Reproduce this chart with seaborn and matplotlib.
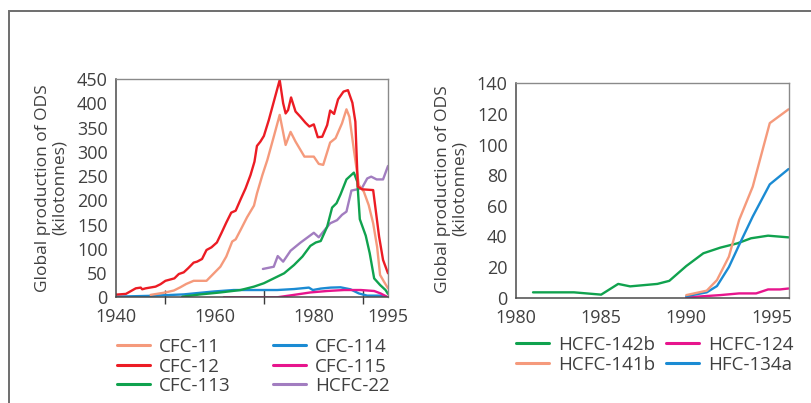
import matplotlib
matplotlib.use("Agg")
import matplotlib.pyplot as plt
import seaborn as sns
import pandas as pd
from matplotlib.lines import Line2D
from matplotlib.patches import Rectangle

# ---------------- data ----------------
cfc11_years = [1947, 1950, 1951.7, 1953, 1954.2, 1955.7, 1958.3, 1959.8, 1961.1, 1962.3, 1963.5,
               1964.2, 1965.2, 1966.5, 1967.9, 1968.5, 1969.6, 1970.6, 1971.9, 1973.1, 1974.3,
               1975.3, 1976.3, 1978.1, 1980, 1981, 1981.9, 1983.3, 1984.4, 1985.7, 1986.6,
               1987.2, 1988.1, 1989.1, 1990.1, 1991.1, 1992, 1992.8, 1993.4, 1994.2, 1995]
cfc11_vals = [5, 10, 14, 20.6, 27.5, 34, 34, 49.5, 63, 84, 115,
              119.5, 139, 165, 189, 214, 252, 283, 331, 376, 314,
              341, 321, 290, 290, 275, 273, 319, 328, 358.6, 387.5,
              372, 304, 231.5, 218, 190, 152.5, 104, 46, 32, 18.5]

cfc12_years = [1940, 1942, 1944, 1945, 1945.3, 1946, 1948, 1949, 1950, 1951.8, 1952.7, 1953.7,
               1954.6, 1955.7, 1956.4, 1957.4, 1958.3, 1959.3, 1960.4, 1961.3, 1962.3, 1963.3,
               1964.2, 1965.2, 1966.2, 1967.2, 1968, 1968.5, 1969.2, 1969.9, 1970.9, 1971.9,
               1973.1, 1973.8, 1974.3, 1974.8, 1975.4, 1976.3, 1977.3, 1978.3, 1979.1, 1980,
               1980.8, 1981.7, 1982.7, 1983.3, 1984.1, 1984.9, 1986, 1986.9, 1987.8, 1988.4,
               1988.9, 1989.8, 1992, 1993.2, 1994, 1995]
cfc12_vals = [5.5, 7, 18.5, 20, 16.5, 18.5, 22, 27, 34, 39, 48, 51.5,
              60, 71.5, 73.5, 79, 97.5, 103, 113, 132, 154, 174.5,
              178.6, 202, 224.6, 252, 279.6, 312, 321, 332.5, 365.5, 403,
              448, 400, 379, 386, 412, 383, 372, 360, 352, 356.5,
              330, 331, 355, 385, 378, 408, 424, 427, 401, 362,
              228, 222.6, 221, 125, 77, 49.5]

cfc113_years = [1953.4, 1957.1, 1961.1, 1965.2, 1967.9, 1969.9, 1971.9, 1974, 1976, 1977.7,
                1979.3, 1980.4, 1981.4, 1982.7, 1983.7, 1984.6, 1985.4, 1986.6, 1988.1, 1988.8,
                1989.3, 1990.5, 1991.3, 1992.2, 1993.4, 1994.5, 1995]
cfc113_vals = [1.4, 6, 10, 15, 22, 29, 39, 49.5, 66.6, 84,
               106, 113, 116, 145.6, 185, 194, 212, 243, 257, 238,
               161, 127, 91, 39, 25.4, 15, 7]

cfc114_years = [1940, 1947, 1953.7, 1959.8, 1963.8, 1969.6, 1972.6, 1976, 1979, 1979.8,
                1981.4, 1983.4, 1985.4, 1987.4, 1989.1, 1990.8, 1993.5, 1995]
cfc114_vals = [1.4, 3, 6, 12, 15, 15, 15, 17, 20, 15,
               18, 20, 20.6, 16.5, 8, 3.4, 3.4, 0]

cfc115_years = [1961.8, 1972.6, 1976, 1979.3, 1982.7, 1986.1, 1989.5, 1992.2, 1993.5, 1995]
cfc115_vals = [0, 0, 5, 10, 13, 15, 15, 13, 8, 0]

hcfc22_years = [1969.7, 1971.9, 1972.7, 1973.8, 1975.3, 1977.3, 1980, 1981, 1983.3, 1984.7,
                1985.7, 1986.6, 1987.6, 1988.8, 1989.7, 1990.8, 1991.6, 1992.7, 1994, 1995]
hcfc22_vals = [58.4, 63, 85, 73.5, 96, 112.7, 133, 123.7, 152.5, 159,
               170, 176.6, 220, 222.6, 224.6, 245, 248.7, 243, 243, 270.7]

hcfc142b_years = [1981, 1983.4, 1985, 1986, 1986.7, 1988.3, 1989, 1990, 1991, 1992, 1993,
                  1993.8, 1994.8, 1996]
hcfc142b_vals = [3.5, 3.5, 2, 9, 7.4, 9, 11, 20.7, 29, 32.7, 35.5, 38.8, 40.5, 39.4]

hcfc141b_years = [1990, 1991.2, 1991.8, 1992.5, 1993.1, 1993.9, 1994.9, 1996]
hcfc141b_vals = [1.7, 4.6, 11.5, 26.8, 50.7, 72.5, 114, 123]

hfc134a_years = [1990, 1991.2, 1991.8, 1992.5, 1993.1, 1993.9, 1994.9, 1996]
hfc134a_vals = [1, 3.5, 7.6, 20, 34.4, 53, 74, 84]

hcfc124_years = [1990, 1992, 1993.1, 1994.1, 1994.8, 1995.5, 1996]
hcfc124_vals = [0.2, 1.7, 2.8, 2.8, 5.4, 5.4, 6]

left_ticks = [1940, 1960, 1980, 1995]
left_minor = [1950, 1970, 1990]
right_ticks = [1980, 1985, 1990, 1995]
left_yticks = [0, 50, 100, 150, 200, 250, 300, 350, 400, 450]
right_yticks = [0, 20, 40, 60, 80, 100, 120, 140]
ylabel_text = "Global production of ODS\n(kilotonnes)"

# ---------------- styling ----------------
colors = {
    "CFC-11": "#F59A7C", "CFC-12": "#EC1C24", "CFC-113": "#10A24E",
    "CFC-114": "#1B8BD3", "CFC-115": "#E7158D", "HCFC-22": "#A27DC0",
    "HCFC-142b": "#10A24E", "HCFC-141b": "#F59A7C", "HCFC-124": "#E7158D",
    "HFC-134a": "#1B8BD3",
}
TXT = "#404040"
sns.set_theme(style="white")
plt.rcParams["font.family"] = ["Open Sans", "DejaVu Sans"]
FS = 13
FS_LAB = 12.5
FS_LEG = 13.5

def long_df(series):
    rows = []
    for name, yrs, vals in series:
        for x, v in zip(yrs, vals):
            rows.append({"year": x, "value": v, "series": name})
    return pd.DataFrame(rows)

left_series = [("CFC-11", cfc11_years, cfc11_vals), ("CFC-12", cfc12_years, cfc12_vals),
               ("CFC-113", cfc113_years, cfc113_vals), ("CFC-114", cfc114_years, cfc114_vals),
               ("CFC-115", cfc115_years, cfc115_vals), ("HCFC-22", hcfc22_years, hcfc22_vals)]
right_series = [("HCFC-142b", hcfc142b_years, hcfc142b_vals), ("HCFC-141b", hcfc141b_years, hcfc141b_vals),
                ("HCFC-124", hcfc124_years, hcfc124_vals), ("HFC-134a", hfc134a_years, hfc134a_vals)]
dfl = long_df(left_series)
dfr = long_df(right_series)

W, H = 811, 403
fig = plt.figure(figsize=(W / 100, H / 100), dpi=100)

def ax_rect(l, r, t, b):
    return [l / W, (H - b) / H, (r - l) / W, (b - t) / H]

axL = fig.add_axes(ax_rect(116, 388, 79, 297.3))
axR = fig.add_axes(ax_rect(516, 788.5, 83.3, 297.7))

left_order = ["CFC-114", "CFC-115", "HCFC-22", "CFC-113", "CFC-11", "CFC-12"]
sns.lineplot(data=dfl, x="year", y="value", hue="series", hue_order=left_order,
             palette=colors, estimator=None, linewidth=1.7, ax=axL, legend=False)
right_order = ["HCFC-124", "HCFC-142b", "HFC-134a", "HCFC-141b"]
sns.lineplot(data=dfr, x="year", y="value", hue="series", hue_order=right_order,
             palette=colors, estimator=None, linewidth=1.7, ax=axR, legend=False)

def style_axis(ax, xlim, ylim, xt, yt, minor=None):
    ax.set_xlim(*xlim)
    ax.set_ylim(*ylim)
    ax.set_xticks(xt)
    ax.set_xticklabels([str(v) for v in xt])
    if minor:
        ax.set_xticks(minor, minor=True)
    ax.set_yticks(yt)
    ax.set_yticklabels([str(v) for v in yt])
    ax.set_xlabel("")
    ax.set_ylabel("")
    for side in ["left", "bottom"]:
        ax.spines[side].set_color("#4a4a4a")
        ax.spines[side].set_linewidth(1.1)
    for side in ["top", "right"]:
        ax.spines[side].set_color("#8a8a8a")
        ax.spines[side].set_linewidth(1.0)
    ax.tick_params(axis="both", which="both", direction="inout", length=10, width=1.0,
                   color="#3a3a3a", labelsize=FS, labelcolor=TXT)
    ax.tick_params(axis="x", which="minor", length=10, width=1.0, color="#3a3a3a", bottom=True)
    ax.tick_params(axis="x", pad=3)
    ax.tick_params(axis="y", pad=1)
    ax.grid(False)
    ax.set_facecolor("white")

style_axis(axL, (1940, 1995), (0, 450), left_ticks, left_yticks, left_minor)
style_axis(axR, (1980, 1996), (0, 140), right_ticks, right_yticks)

fig.text(51 / W, 1 - 188 / H, ylabel_text, rotation=90, ha="center", va="center",
         fontsize=FS_LAB, color=TXT, linespacing=1.05)
fig.text(451 / W, 1 - 189 / H, ylabel_text, rotation=90, ha="center", va="center",
         fontsize=FS_LAB, color=TXT, linespacing=1.05)

def col_legend(names, x_px, y_px):
    handles = [Line2D([0], [0], color=colors[n], lw=2.2) for n in names]
    leg = fig.legend(handles, names, loc="upper left",
                     bbox_to_anchor=(x_px / W, 1 - y_px / H), frameon=False,
                     fontsize=FS_LEG, labelcolor=TXT, handlelength=1.75, handletextpad=0.5,
                     labelspacing=0.08, borderpad=0, borderaxespad=0)
    return leg

col_legend(["CFC-11", "CFC-12", "CFC-113"], 117, 338)
col_legend(["CFC-114", "CFC-115", "HCFC-22"], 273, 338)
col_legend(["HCFC-142b", "HCFC-141b"], 516, 336)
col_legend(["HCFC-124", "HFC-134a"], 666, 336)

fig.patches.append(Rectangle((9 / W, -0.1), 1.2, (1 - 11 / H) + 0.1, transform=fig.transFigure,
                             fill=False, edgecolor="#6e6e6e", linewidth=1.4, figure=fig))

fig.savefig("out.png", dpi=100, facecolor="white")
